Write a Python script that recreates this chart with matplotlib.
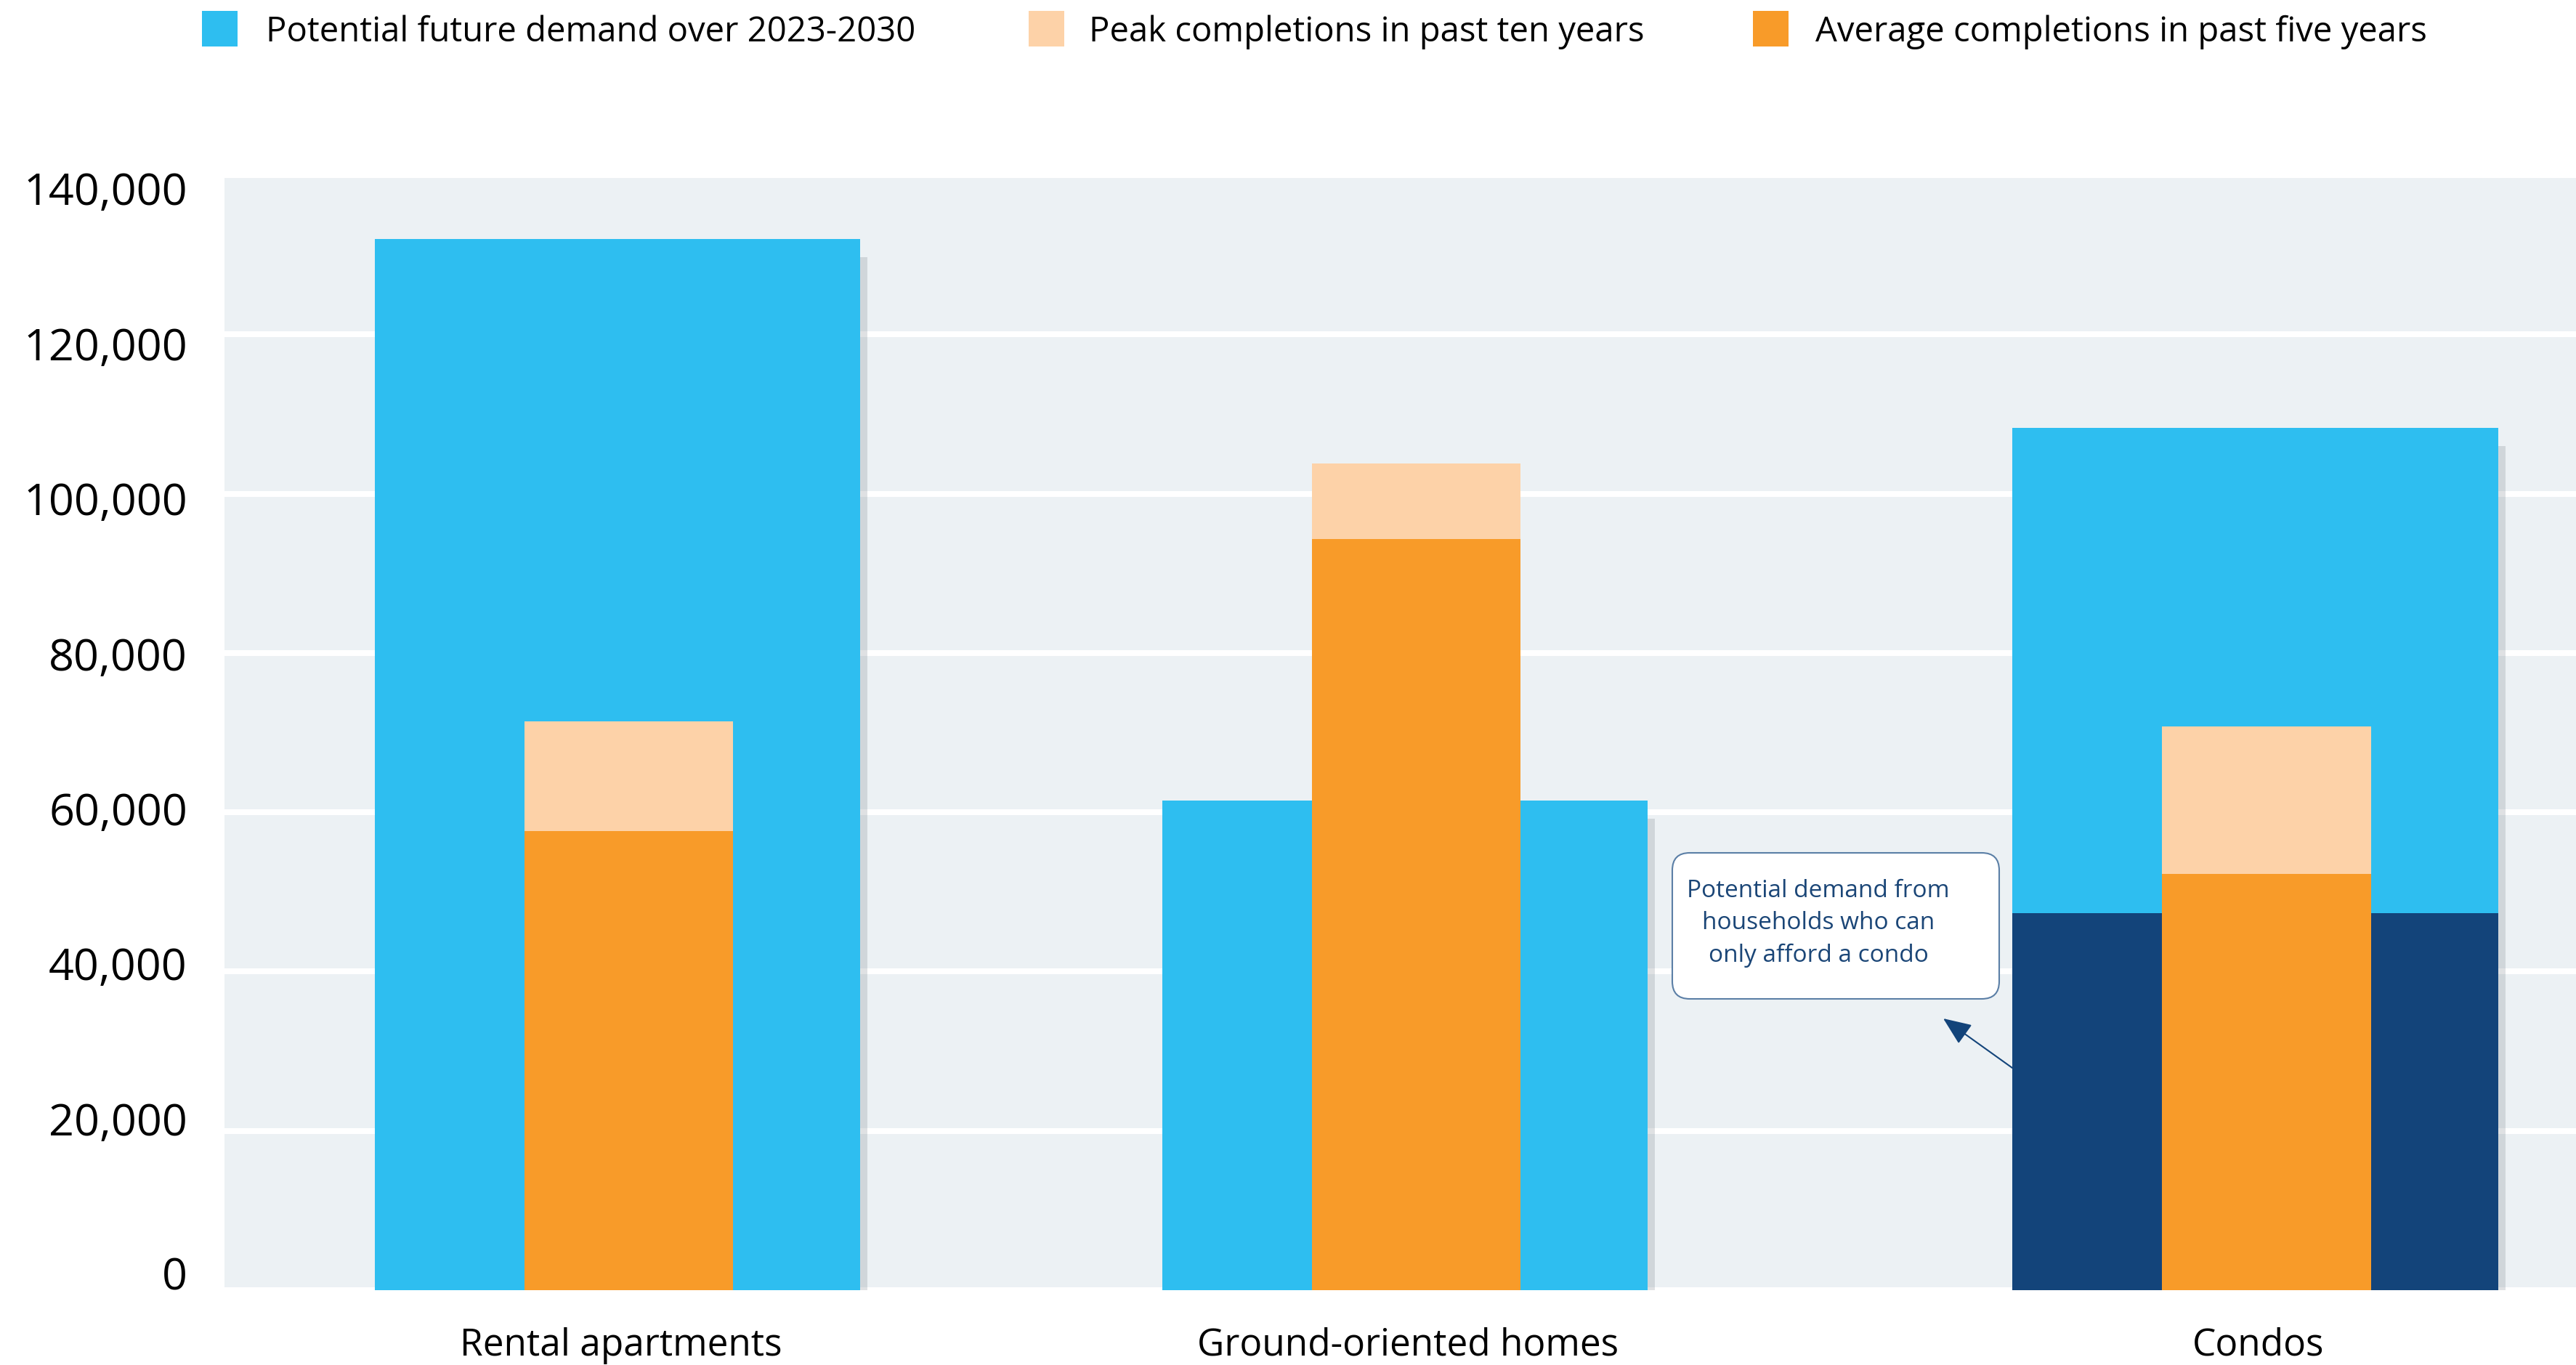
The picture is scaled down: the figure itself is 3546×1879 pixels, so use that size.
import matplotlib
matplotlib.use("Agg")
import matplotlib.pyplot as plt
import matplotlib.patheffects as pe
from matplotlib.patches import Rectangle, FancyBboxPatch
from matplotlib.transforms import IdentityTransform

plt.rcParams['font.family'] = ['Open Sans', 'DejaVu Sans']

# data
categories = ['Rental apartments', 'Ground-oriented homes', 'Condos']
future_demand = [132000, 61500, 108300]
peak_completions = [71400, 103800, 70800]
avg_completions = [57600, 94300, 52300]
condo_only_demand = 47300  # part of condo demand from households who can only afford a condo
yticks = [0, 20000, 40000, 60000, 80000, 100000, 120000, 140000]
legend_labels = ['Potential future demand over 2023-2030',
                 'Peak completions in past ten years',
                 'Average completions in past five years']

BLUE = '#2EBEF0'
PEACH = '#FDD2A8'
ORANGE = '#F89B29'
NAVY = '#13447A'
BG = '#ECF1F4'

W, H = 3546, 1879
fig = plt.figure(figsize=(W / 100, H / 100), dpi=100)
ax = fig.add_axes([309 / W, 1 - 1776 / H, (W - 309) / W, (1776 - 241) / H])
ax.set_facecolor(BG)

x_pos = [0, 1, 2.08]
blue_w = 0.617
orange_w = 0.265
orange_off = 0.014

shadow = [pe.SimplePatchShadow(offset=(7.2, -18), shadow_rgbFace='#808990', alpha=0.25),
          pe.Normal()]

blue_bars = ax.bar(x_pos, future_demand, width=blue_w, color=BLUE, zorder=2)
for b in blue_bars:
    b.set_path_effects(shadow)
ax.bar(x_pos[2], condo_only_demand, width=blue_w, color=NAVY, zorder=3)

ox = [x + orange_off for x in x_pos]
ax.bar(ox, peak_completions, width=orange_w, color=PEACH, zorder=4)
ax.bar(ox, avg_completions, width=orange_w, color=ORANGE, zorder=5)

ax.set_xlim(-0.4991, 2.4871)
ax.set_ylim(0, 140000)
ax.set_yticks(yticks)
ax.set_yticklabels([])
ax.set_xticks([])
ax.tick_params(length=0)
ax.grid(axis='y', color='white', linewidth=5.8)
ax.set_axisbelow(True)
for s in ax.spines.values():
    s.set_visible(False)

# y labels sit slightly inside the gridlines
for v in yticks:
    ax.text(-51 / (W - 309), v * 0.973, f'{v:,}', transform=ax.get_yaxis_transform(),
            ha='right', va='baseline', fontsize=44, color='black')

# category labels
for x, c in zip(x_pos, categories):
    ax.text(x + 0.004, -0.0586, c, transform=ax.get_xaxis_transform(),
            ha='center', va='baseline', fontsize=37, color='black')

# legend across the top
sq_x = [278, 1416, 2413]
txt_x = [366, 1499, 2499]
for sx, tx, col, lab in zip(sq_x, txt_x, [BLUE, PEACH, ORANGE], legend_labels):
    fig.add_artist(Rectangle((sx, H - 64), 49, 49, transform=IdentityTransform(),
                             facecolor=col, edgecolor='none'))
    fig.text(tx / W, 1 - 57 / H, lab, ha='left', va='baseline', fontsize=34, color='black')

# callout box and arrow
fig.add_artist(FancyBboxPatch((2302, H - 1375), 450, 201, transform=IdentityTransform(),
                              boxstyle='round,pad=0,rounding_size=24',
                              facecolor='white', edgecolor='#5B7FA6', linewidth=1.5, zorder=6))
fig.text(2503 / W, 1 - 1271 / H,
         'Potential demand from\nhouseholds who can\nonly afford a condo',
         ha='center', va='center', fontsize=24, color='#1B4677', linespacing=1.45, zorder=7)
ax.annotate('', xy=(2675, H - 1402), xycoords='figure pixels',
            xytext=(2770, H - 1470), textcoords='figure pixels',
            arrowprops=dict(arrowstyle='-|>,head_length=1.2,head_width=0.5', mutation_scale=20,
                            color=NAVY, lw=1.5, shrinkA=0, shrinkB=0), zorder=7)

fig.savefig('out.png', dpi=100)
